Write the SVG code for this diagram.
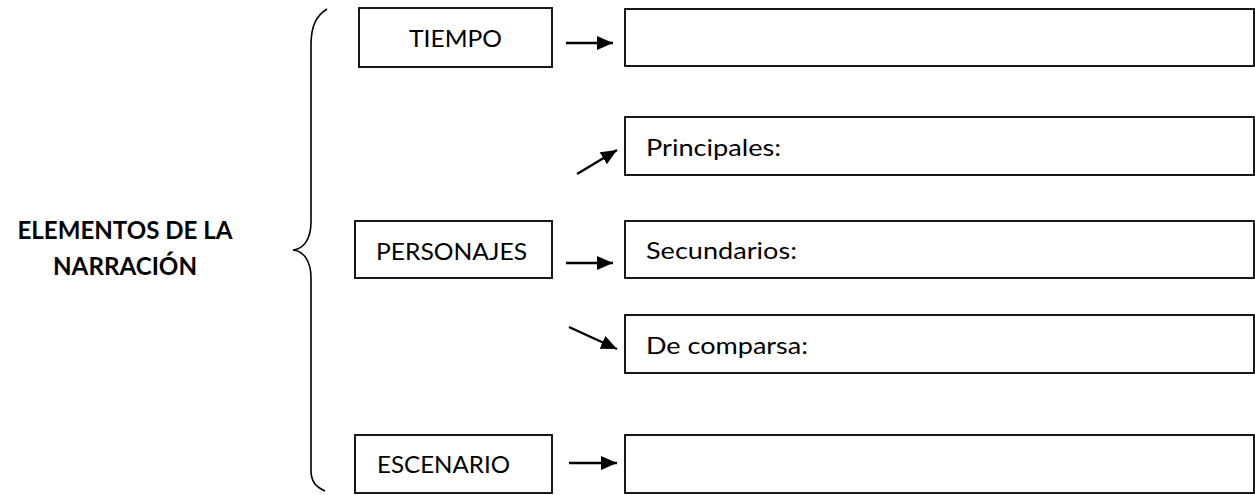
<svg xmlns="http://www.w3.org/2000/svg" width="1255" height="495" viewBox="0 0 1255 495">
<style>
.box{fill:#fff;stroke:#000;stroke-width:1.8}
.t{font-family:Lato,"Open Sans","Liberation Sans",sans-serif;font-size:24px;fill:#000}
.title{font-family:Lato,"Open Sans","Liberation Sans",sans-serif;font-size:24px;font-weight:bold;fill:#000}
.conn{stroke:#000;stroke-width:2.4;fill:none}
.brace{stroke:#000;stroke-width:1.6;fill:none}
</style>
<defs>
<marker id="ah" markerWidth="17" markerHeight="14" refX="16" refY="7" orient="auto" markerUnits="userSpaceOnUse">
<path d="M0,0 L16,7 L0,14 Z" fill="#000"/>
</marker>
</defs>
<rect width="1255" height="495" fill="#fff"/>
<g id="title">
<text class="title" x="125" y="239" text-anchor="middle" textLength="215" lengthAdjust="spacingAndGlyphs">ELEMENTOS DE LA</text>
<text class="title" x="125" y="275" text-anchor="middle" textLength="144" lengthAdjust="spacingAndGlyphs">NARRACIÓN</text>
</g>
<g id="brace">
<path class="brace" d="M327,9 C316,16 311,26 311,45 L311,222 C311,240 303,249 293,250 C303,251 311,260 311,278 L311,470 C311,482 316,487 325,491"/>
</g>
<g id="tiempo">
<rect class="box" x="359" y="8" width="193" height="59"/>
<text class="t" x="409" y="47" textLength="93" lengthAdjust="spacingAndGlyphs">TIEMPO</text>
</g>
<g id="tiempo-val">
<rect class="box" x="625" y="9" width="629" height="57"/>
</g>
<g id="principales">
<rect class="box" x="625" y="117" width="629" height="58"/>
<text class="t" x="646" y="156" textLength="135" lengthAdjust="spacingAndGlyphs">Principales:</text>
</g>
<g id="personajes">
<rect class="box" x="355" y="221" width="197" height="57"/>
<text class="t" x="376" y="260" textLength="151" lengthAdjust="spacingAndGlyphs">PERSONAJES</text>
</g>
<g id="secundarios">
<rect class="box" x="625" y="221" width="629" height="57"/>
<text class="t" x="646" y="259" textLength="151" lengthAdjust="spacingAndGlyphs">Secundarios:</text>
</g>
<g id="comparsa">
<rect class="box" x="625" y="315" width="629" height="58"/>
<text class="t" x="646" y="354" textLength="162" lengthAdjust="spacingAndGlyphs">De comparsa:</text>
</g>
<g id="escenario">
<rect class="box" x="355" y="435" width="197" height="58"/>
<text class="t" x="377" y="473" textLength="133" lengthAdjust="spacingAndGlyphs">ESCENARIO</text>
</g>
<g id="escenario-val">
<rect class="box" x="625" y="435" width="629" height="58"/>
</g>
<g id="connectors">
<line class="conn" x1="566" y1="43" x2="613" y2="43" marker-end="url(#ah)"/>
<line class="conn" x1="577" y1="174" x2="617" y2="150" marker-end="url(#ah)"/>
<line class="conn" x1="566" y1="263" x2="613" y2="263" marker-end="url(#ah)"/>
<line class="conn" x1="569" y1="327" x2="617" y2="349" marker-end="url(#ah)"/>
<line class="conn" x1="569" y1="463" x2="617" y2="463" marker-end="url(#ah)"/>
</g>
</svg>
